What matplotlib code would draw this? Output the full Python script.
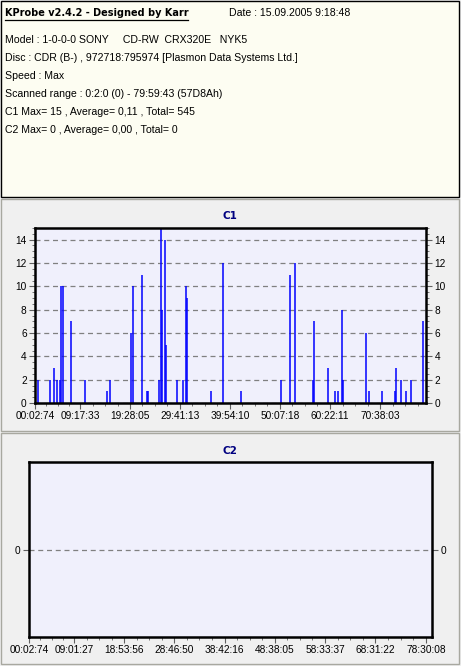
import matplotlib
matplotlib.use('Agg')
import matplotlib.pyplot as plt
from matplotlib.patches import Rectangle
from matplotlib.lines import Line2D

plt.rcParams['font.family'] = ['Liberation Sans', 'DejaVu Sans']

W, H = 461, 666

# header text
title = 'KProbe v2.4.2 - Designed by Karr'
date = 'Date : 15.09.2005 9:18:48'
info_lines = [
    'Model : 1-0-0-0 SONY     CD-RW  CRX320E   NYK5',
    'Disc : CDR (B-) , 972718:795974 [Plasmon Data Systems Ltd.]',
    'Speed : Max',
    'Scanned range : 0:2:0 (0) - 79:59:43 (57D8Ah)',
    'C1 Max= 15 , Average= 0,11 , Total= 545',
    'C2 Max= 0 , Average= 0,00 , Total= 0',
]

# C1 errors (position in minutes, count)
c1_pos = [0.66, 3.18, 4.00, 4.61, 5.16, 5.43, 5.84, 7.47, 10.34, 14.84, 15.45,
          19.74, 20.15, 21.99, 22.95, 23.16, 25.47, 25.88, 26.08, 26.70, 26.90,
          29.15, 30.38, 30.99, 31.20, 36.10, 38.56, 42.24, 50.42, 52.26, 53.28,
          56.96, 57.17, 60.03, 61.46, 62.08, 62.89, 63.10, 67.80, 68.41, 71.07,
          73.73, 73.93, 74.95, 75.97, 76.99, 79.46]
c1_val = [2, 2, 3, 2, 2, 10, 10, 7, 2, 1, 2,
          6, 10, 11, 1, 1, 2, 15, 8, 14, 5,
          2, 2, 10, 9, 1, 12, 1, 2, 11, 12,
          2, 7, 3, 1, 1, 8, 2, 6, 1, 1,
          1, 3, 2, 1, 2, 7]
c1_ticks = ['00:02:74', '09:17:33', '19:28:05', '29:41:13', '39:54:10',
            '50:07:18', '60:22:11', '70:38:03']
c1_xmax = 80.0

c2_pos = []
c2_val = []
c2_ticks = ['00:02:74', '09:01:27', '18:53:56', '28:46:50', '38:42:16',
            '48:38:05', '58:33:37', '68:31:22', '78:30:08']
c2_xmax = 79.7


def to_min(s):
    m, sec, fr = (int(p) for p in s.split(':'))
    return m + sec / 60 + fr / 75 / 60


def fx(px):
    return px / W


def fy(py):
    return 1 - py / H


fig = plt.figure(figsize=(W / 100, H / 100), dpi=100, facecolor='#f0f0f0')

# info box
fig.patches.append(Rectangle((fx(1), fy(197)), fx(458), 196 / H, transform=fig.transFigure,
                             facecolor='#fdfdf2', edgecolor='black', lw=1.0))
# panel borders
for top, bot in [(199, 431), (433, 664)]:
    fig.patches.append(Rectangle((fx(1), fy(bot)), fx(458), (bot - top) / H,
                                 transform=fig.transFigure, facecolor='none',
                                 edgecolor='#a8a8a0', lw=1.0))

fig.text(fx(5), fy(13), title, fontsize=7.0, fontweight='bold', va='center',
         family=['DejaVu Sans'])
fig.add_artist(Line2D([fx(5), fx(188)], [fy(20), fy(20)], color='black', lw=0.9))
fig.text(fx(229), fy(13), date, fontsize=7.6, va='center')
for i, line in enumerate(info_lines):
    fig.text(fx(5), fy(40 + 18 * i), line, fontsize=7.6, va='center')


def setup(ax, ticks, xmax, name, title_y):
    ax.set_facecolor('#f0f0fc')
    for sp in ax.spines.values():
        sp.set_linewidth(1.8)
        sp.set_color('black')
    pos = [to_min(t) for t in ticks]
    ax.set_xlim(pos[0], xmax)
    ax.set_xticks(pos)
    ax.set_xticklabels(ticks)
    minors = []
    for a, b in zip(pos[:-1], pos[1:]):
        minors += [a + (b - a) * k / 4 for k in (1, 2, 3)]
    step = (pos[-1] - pos[-2]) / 4
    v = pos[-1] + step
    while v < xmax:
        minors.append(v)
        v += step
    ax.set_xticks(minors, minor=True)
    ax.tick_params(axis='both', which='both', direction='out', color='#606060',
                   labelsize=7.3, pad=2, right=True, labelright=True)
    ax.tick_params(which='major', length=4)
    ax.tick_params(which='minor', length=2.5)
    ax.grid(axis='y', which='major', linestyle=(0, (4, 3)), color='#808080', lw=0.9)
    ax.set_axisbelow(True)
    fig.text(fx(230), fy(title_y), name, fontsize=7.5, fontweight='bold',
             color='#000080', ha='center', va='center', family=['DejaVu Sans'])


ax1 = fig.add_axes([fx(35), fy(403), fx(391), 175 / H])
setup(ax1, c1_ticks, c1_xmax, 'C1', 216)
ax1.vlines(c1_pos, 0, c1_val, color='#0000ff', lw=1.1)
ax1.set_ylim(0, 15)
ax1.set_yticks(range(0, 15, 2))
ax1.set_yticks([v / 2 for v in range(0, 31)], minor=True)

ax2 = fig.add_axes([fx(29), fy(637), fx(403), 175 / H])
setup(ax2, c2_ticks, c2_xmax, 'C2', 451)
ax2.vlines(c2_pos, 0, c2_val, color='#0000ff', lw=1.1)
ax2.set_ylim(-1, 1)
ax2.set_yticks([0])
ax2.set_yticks([], minor=True)

fig.savefig('out.png', dpi=100, facecolor=fig.get_facecolor())
